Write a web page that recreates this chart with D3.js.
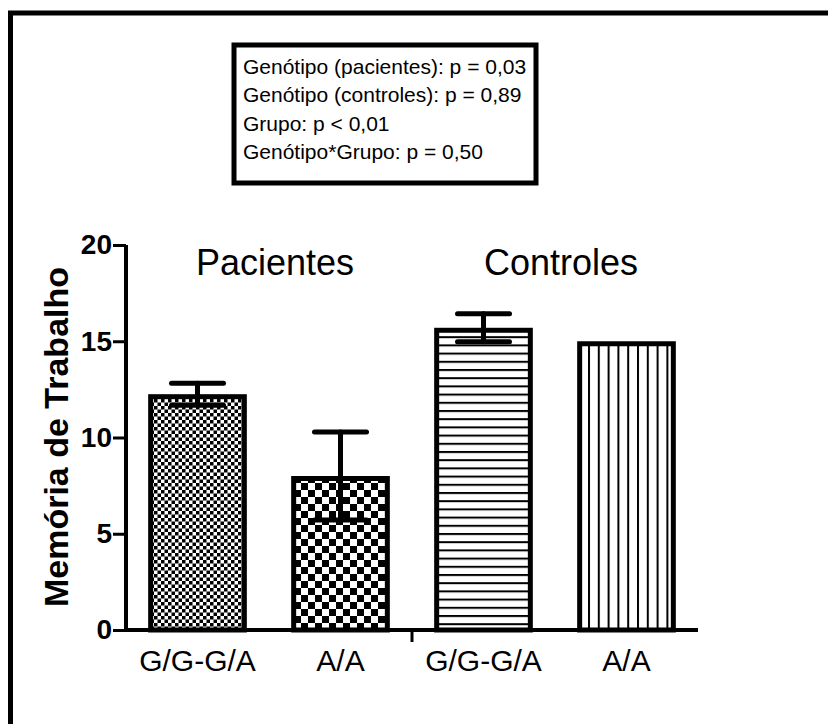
<!DOCTYPE html>
<html>
<head>
<meta charset="utf-8">
<script src="https://cdn.jsdelivr.net/npm/d3@7"></script>
<style>
  body { margin: 0; background: #fff; }
  svg { display: block; font-family: Arial, "Liberation Sans", sans-serif; }
</style>
</head>
<body>
<div id="chart"></div>
<script>
// data
var categories = ['G/G-G/A', 'A/A', 'G/G-G/A ', 'A/A '];
var tickLabels = ['G/G-G/A', 'A/A', 'G/G-G/A', 'A/A'];
var means = [12.25, 8.0, 15.7, 15.0];
var sems = [0.57, 2.28, 0.73, 0];
var groups = ['Pacientes', 'Controles'];
var yTicks = [0, 5, 10, 15, 20];
var statLines = [
  'Genótipo (pacientes): p = 0,03',
  'Genótipo (controles): p = 0,89',
  'Grupo: p < 0,01',
  'Genótipo*Grupo: p = 0,50'
];

var width = 828,
    height = 724;

var svg = d3.select('#chart')
  .append('svg')
  .attr('width', width)
  .attr('height', height);

// patterns for the bars
var defs = svg.append('defs');

function checker(id, s) {
  var p = defs.append('pattern')
    .attr('id', id)
    .attr('patternUnits', 'userSpaceOnUse')
    .attr('width', s * 2).attr('height', s * 2);
  p.append('rect').attr('width', s * 2).attr('height', s * 2).attr('fill', '#fff');
  p.append('rect').attr('width', s).attr('height', s).attr('fill', '#000');
  p.append('rect').attr('x', s).attr('y', s).attr('width', s).attr('height', s).attr('fill', '#000');
}
checker('fine', 3.5);
checker('coarse', 7);

var ph = defs.append('pattern').attr('id', 'hlines')
  .attr('patternUnits', 'userSpaceOnUse').attr('width', 10).attr('height', 8.2);
ph.append('rect').attr('width', 10).attr('height', 8.2).attr('fill', '#fff');
ph.append('rect').attr('y', 0).attr('width', 10).attr('height', 2).attr('fill', '#000');

var pv = defs.append('pattern').attr('id', 'vlines')
  .attr('patternUnits', 'userSpaceOnUse').attr('width', 9.8).attr('height', 10);
pv.append('rect').attr('width', 9.8).attr('height', 10).attr('fill', '#fff');
pv.append('rect').attr('x', 0).attr('width', 2).attr('height', 10).attr('fill', '#000');

var fills = ['url(#fine)', 'url(#coarse)', 'url(#hlines)', 'url(#vlines)'];

// outer frame (runs off the bottom/right of the picture)
svg.append('rect')
  .attr('x', 10.5).attr('y', 13)
  .attr('width', 830).attr('height', 730)
  .attr('fill', 'none').attr('stroke', '#000').attr('stroke-width', 5);

var x = d3.scaleBand()
  .domain(categories)
  .range([126, 698])
  .paddingInner(0.31)
  .paddingOuter(0.155);

var y = d3.scaleLinear()
  .domain([0, 20])
  .range([630, 245]);

// bars
svg.selectAll('rect.bar')
  .data(means)
  .enter()
  .append('rect')
  .attr('class', 'bar')
  .attr('x', function(d, i) { return x(categories[i]) + 2.5; })
  .attr('y', function(d) { return y(d) + 2.5; })
  .attr('width', x.bandwidth() - 5)
  .attr('height', function(d) { return y(0) - y(d) - 2.5; })
  .attr('fill', function(d, i) { return fills[i]; })
  .attr('stroke', '#000')
  .attr('stroke-width', 5);

// error bars
var eb = svg.selectAll('g.err')
  .data(means.map(function(m, i) { return { m: m, s: sems[i], c: categories[i] }; })
    .filter(function(d) { return d.s > 0; }))
  .enter()
  .append('g')
  .attr('class', 'err')
  .attr('stroke', '#000')
  .attr('stroke-width', 5)
  .attr('stroke-linecap', 'round');

eb.append('line')
  .attr('x1', function(d) { return x(d.c) + x.bandwidth() / 2; })
  .attr('x2', function(d) { return x(d.c) + x.bandwidth() / 2; })
  .attr('y1', function(d) { return y(d.m + d.s); })
  .attr('y2', function(d) { return y(d.m - d.s); });

[1, -1].forEach(function(sign) {
  eb.append('line')
    .attr('x1', function(d) { return x(d.c) + x.bandwidth() / 2 - 26; })
    .attr('x2', function(d) { return x(d.c) + x.bandwidth() / 2 + 26; })
    .attr('y1', function(d) { return y(d.m + sign * d.s); })
    .attr('y2', function(d) { return y(d.m + sign * d.s); });
});

// y axis
var yAxis = svg.append('g')
  .attr('transform', 'translate(126,0)')
  .call(d3.axisLeft(y).tickValues(yTicks).tickSize(13).tickPadding(1));
yAxis.select('.domain').attr('stroke-width', 4).attr('d', 'M0,245V630');
yAxis.selectAll('.tick line').attr('stroke-width', 3);
yAxis.selectAll('.tick text')
  .attr('font-size', 28).attr('font-weight', 'bold').attr('fill', '#000')
  .attr('font-family', 'Arial, "Liberation Sans", sans-serif');

// x axis
var xAxis = svg.append('g')
  .attr('transform', 'translate(0,630)')
  .call(d3.axisBottom(x).tickSize(0).tickPadding(20).tickFormat(function(d, i) { return tickLabels[i]; }));
xAxis.select('.domain').attr('stroke-width', 4).attr('d', 'M124,0H698');
xAxis.selectAll('.tick text')
  .attr('font-size', 30).attr('fill', '#000')
  .attr('font-family', 'Arial, "Liberation Sans", sans-serif');

// group divider tick
var mid = (x(categories[1]) + x.bandwidth() + x(categories[2])) / 2;
svg.append('line')
  .attr('x1', mid).attr('x2', mid)
  .attr('y1', 630).attr('y2', 642)
  .attr('stroke', '#000').attr('stroke-width', 3);

// group titles
svg.selectAll('text.group')
  .data(groups)
  .enter()
  .append('text')
  .attr('class', 'group')
  .attr('x', function(d, i) {
    var a = x(categories[i * 2]), b = x(categories[i * 2 + 1]) + x.bandwidth();
    return (a + b) / 2 + 6;
  })
  .attr('y', 275)
  .attr('text-anchor', 'middle')
  .attr('font-size', 36)
  .text(function(d) { return d; });

// y label
svg.append('text')
  .attr('transform', 'translate(68,437) rotate(-90)')
  .attr('text-anchor', 'middle')
  .attr('font-size', 34)
  .attr('font-weight', 'bold')
  .text('Memória de Trabalho');

// stats box
svg.append('rect')
  .attr('x', 234).attr('y', 45)
  .attr('width', 302).attr('height', 138)
  .attr('fill', '#fff').attr('stroke', '#000').attr('stroke-width', 5);

svg.selectAll('text.stat')
  .data(statLines)
  .enter()
  .append('text')
  .attr('class', 'stat')
  .attr('x', 243)
  .attr('y', function(d, i) { return 74 + i * 28.3; })
  .attr('font-size', 21)
  .text(function(d) { return d; });
</script>
</body>
</html>
